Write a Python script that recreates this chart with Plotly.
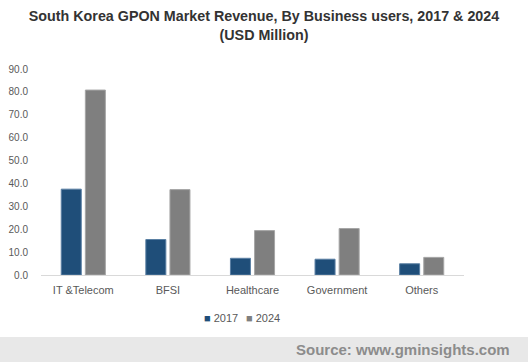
import plotly.graph_objects as go

categories = ["IT &Telecom", "BFSI", "Healthcare", "Government", "Others"]
values_2017 = [37.5, 15.5, 7.3, 6.9, 4.9]
values_2024 = [80.8, 37.3, 19.4, 20.3, 7.7]
series_names = ["2017", "2024"]
series_colors = ["#1F4E79", "#7F7F7F"]
tick_vals = [0, 10, 20, 30, 40, 50, 60, 70, 80, 90]
tick_text = ["0.0", "10.0", "20.0", "30.0", "40.0", "50.0", "60.0", "70.0", "80.0", "90.0"]

W, H = 528, 362
L, R, T, B = 41, 64, 69, 87
PH = H - T - B
PW = W - L - R


def py(pix):
    return -(pix - (H - B)) / PH


def px(pix):
    return (pix - L) / PW


fig = go.Figure()
fig.add_trace(go.Bar(x=categories, y=values_2017, name=series_names[0],
                     marker=dict(color=series_colors[0], line=dict(color="#5A7FA3", width=1))))
fig.add_trace(go.Bar(x=categories, y=values_2024, name=series_names[1],
                     marker=dict(color=series_colors[1], line=dict(color="#A6A6A6", width=1))))

legend_ann = []
for name, col, x0 in zip(series_names, series_colors, [202, 244]):
    legend_ann.append(dict(text=f"<span style='color:{col}'>■</span> {name}",
                           xref="paper", yref="paper", x=px(x0), xanchor="left",
                           y=py(318), yanchor="middle", showarrow=False,
                           font=dict(size=11, color="#595959")))

fig.update_layout(
    width=W, height=H,
    paper_bgcolor="white", plot_bgcolor="white",
    margin=dict(l=L, r=R, t=T, b=B, autoexpand=False),
    barmode="group", bargap=0.43, bargroupgap=0.17,
    font=dict(family="Liberation Sans, Arial, sans-serif", color="#595959", size=11),
    title=dict(text="<b>South Korea GPON Market Revenue, By Business users, 2017 & 2024<br>(USD Million)</b>",
               x=0.5, xanchor="center", yref="container", y=1 - 21 / H, yanchor="middle",
               font=dict(family="Liberation Sans, Arial, sans-serif", size=14.3, color="#333333")),
    showlegend=False,
    xaxis=dict(showline=True, linecolor="#D9D9D9", linewidth=1, ticks="",
               tickfont=dict(size=11, color="#595959"), showgrid=False, ticklabelstandoff=5),
    yaxis=dict(range=[0, 90], tickvals=tick_vals, ticktext=tick_text, showgrid=False,
               showline=False, zeroline=False, ticks="", tickfont=dict(size=10, color="#595959"),
               ticklabelstandoff=12),
    shapes=[dict(type="rect", xref="paper", yref="paper", x0=-0.2, x1=1.3,
                 y0=py(380), y1=py(337),
                 fillcolor="#E8E8E8", line=dict(width=0), layer="below")],
    annotations=legend_ann + [dict(text="<b>Source: www.gminsights.com</b>", xref="paper", yref="paper",
                      x=px(512), xanchor="right", y=py(349), yanchor="middle",
                      showarrow=False,
                      font=dict(family="Liberation Sans, Arial, sans-serif", size=15, color="#8C8C8C"))],
)

fig.write_html("out.html", config={"displayModeBar": False},
               post_script="document.body.style.margin='0';document.body.style.overflow='hidden';")
